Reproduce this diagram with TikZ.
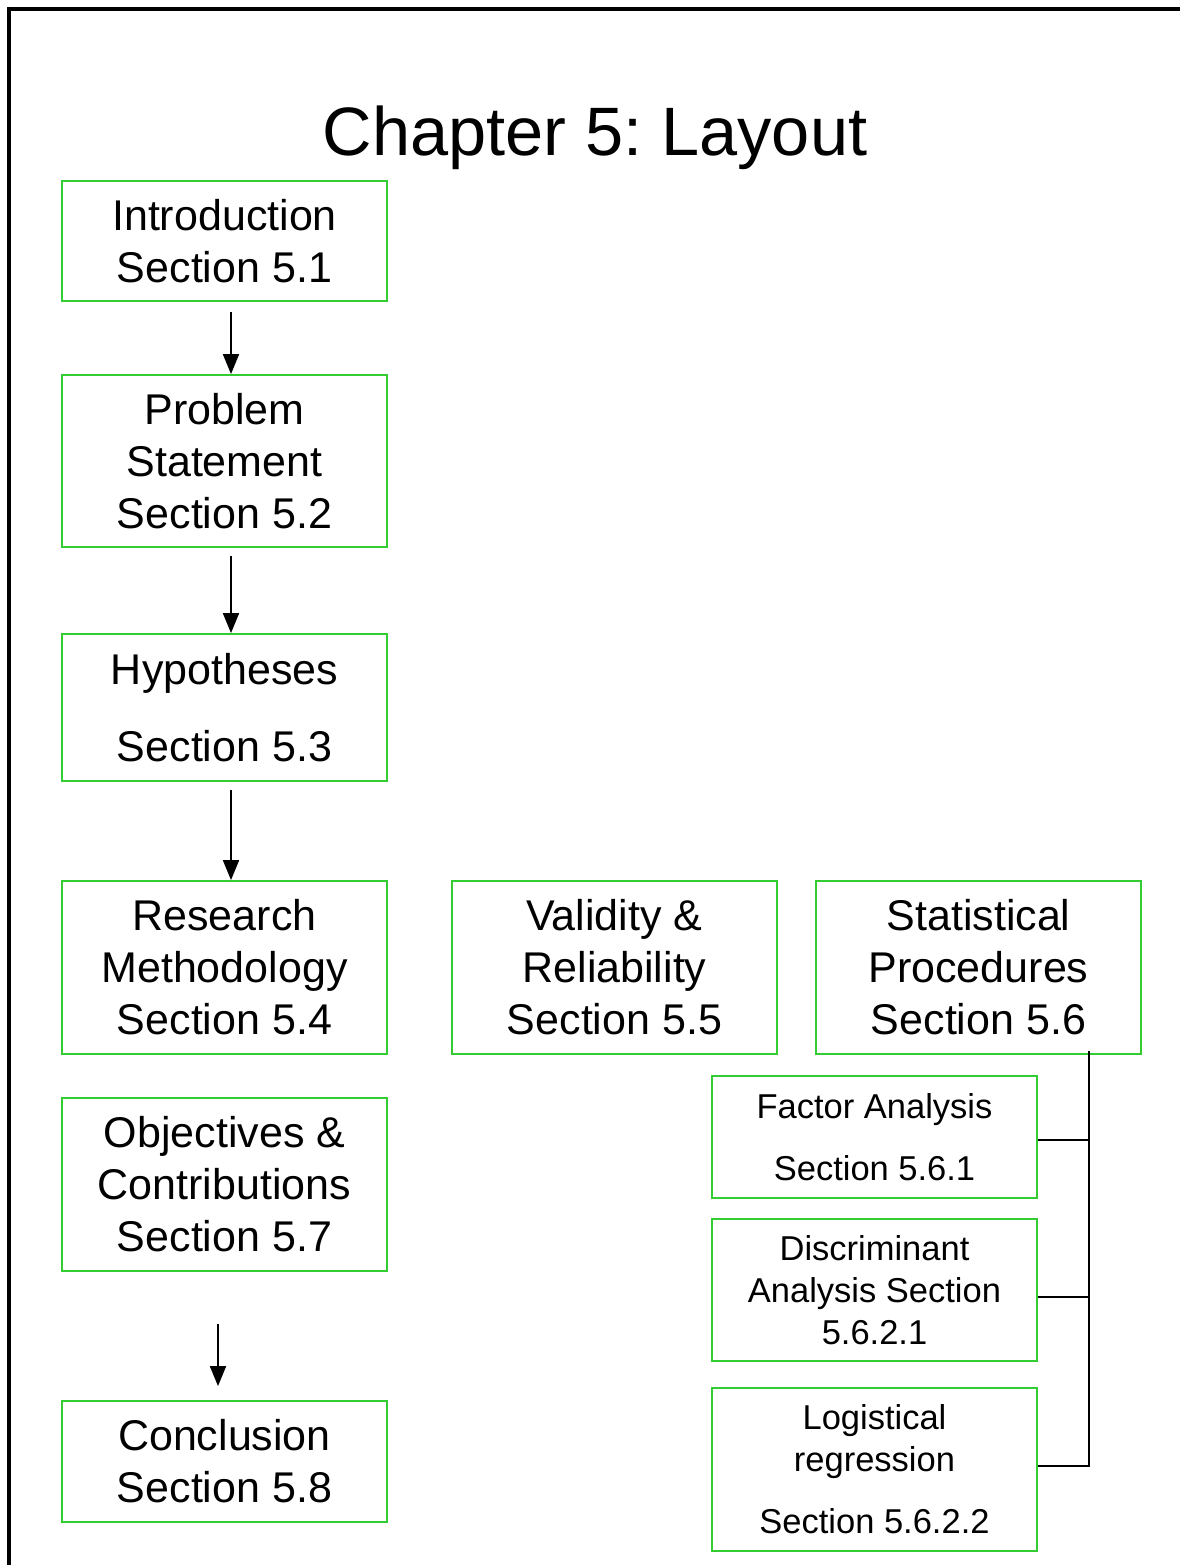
\documentclass[tikz,border=0pt]{standalone}
\usepackage{fontspec}
\setmainfont{Liberation Sans}
\usetikzlibrary{arrows.meta}
\definecolor{boxgreen}{RGB}{51,204,51}
\frenchspacing
\tikzset{
  bigbox/.style={draw=boxgreen, line width=1.8pt, minimum width=325pt, inner sep=0pt, align=center, font=\fontsize{43}{52}\selectfont},
  smallbox/.style={draw=boxgreen, line width=1.8pt, minimum width=325pt, inner sep=0pt, align=center, font=\fontsize{34.5}{42}\selectfont},
  flow/.style={line width=1.8pt, -{Triangle[width=16pt,length=20pt]}},
  tie/.style={line width=1.8pt}
}
\begin{document}
\begin{tikzpicture}[x=1pt,y=-1pt]
\useasboundingbox (0,0) rectangle (1180,1565);
\fill[white] (0,0) rectangle (1180,1565);
\draw[line width=3.5pt] (9,1565) -- (9,9) -- (1180,9);
\node[font=\fontsize{68.5}{80}\selectfont] (title) at (595,138) {Chapter 5: Layout};

\node[bigbox, minimum height=120pt] (intro) at (224.5,241) {Introduction\\Section 5.1};
\node[bigbox, minimum height=172pt] (prob) at (224.5,461) {Problem\\Statement\\Section 5.2};
\node[bigbox, minimum height=147pt] (hyp) at (224.5,707.5) {Hypotheses\\[25pt]Section 5.3};
\node[bigbox, minimum height=173pt] (res) at (224.5,967.5) {Research\\Methodology\\Section 5.4};
\node[bigbox, minimum height=173pt] (val) at (614.5,967.5) {Validity \&\\Reliability\\Section 5.5};
\node[bigbox, minimum height=173pt] (stat) at (978.5,967.5) {Statistical\\Procedures\\Section 5.6};
\node[bigbox, minimum height=173pt] (obj) at (224.5,1184.5) {Objectives \&\\Contributions\\Section 5.7};
\node[bigbox, minimum height=121pt] (concl) at (224.5,1461.5) {Conclusion\\Section 5.8};

\node[smallbox, minimum height=122pt] (fact) at (874.5,1137) {Factor Analysis\\[20pt]Section 5.6.1};
\node[smallbox, minimum height=142pt] (disc) at (874.5,1290) {Discriminant\\Analysis Section\\5.6.2.1};
\node[smallbox, minimum height=163pt] (logi) at (874.5,1469.5) {Logistical\\regression\\[20pt]Section 5.6.2.2};

\draw[flow] ([xshift=6.5pt,yshift=-10pt]intro.south) -- ([xshift=6.5pt]prob.north);
\draw[flow] ([xshift=6.5pt,yshift=-8pt]prob.south) -- ([xshift=6.5pt]hyp.north);
\draw[flow] ([xshift=6.5pt,yshift=-8pt]hyp.south) -- ([xshift=6.5pt]res.north);
\draw[flow] ([xshift=-6.5pt,yshift=-52pt]obj.south) -- ([xshift=-6.5pt,yshift=14pt]concl.north);

\coordinate (bracket) at ([xshift=110.5pt,yshift=4pt]stat.south);
\draw[tie] (bracket) |- ([yshift=3.5pt]logi.east);
\draw[tie] ([yshift=-3pt]fact.east) -- ([yshift=-3pt]fact.east -| bracket);
\draw[tie] ([yshift=-7pt]disc.east) -- ([yshift=-7pt]disc.east -| bracket);
\end{tikzpicture}
\end{document}
